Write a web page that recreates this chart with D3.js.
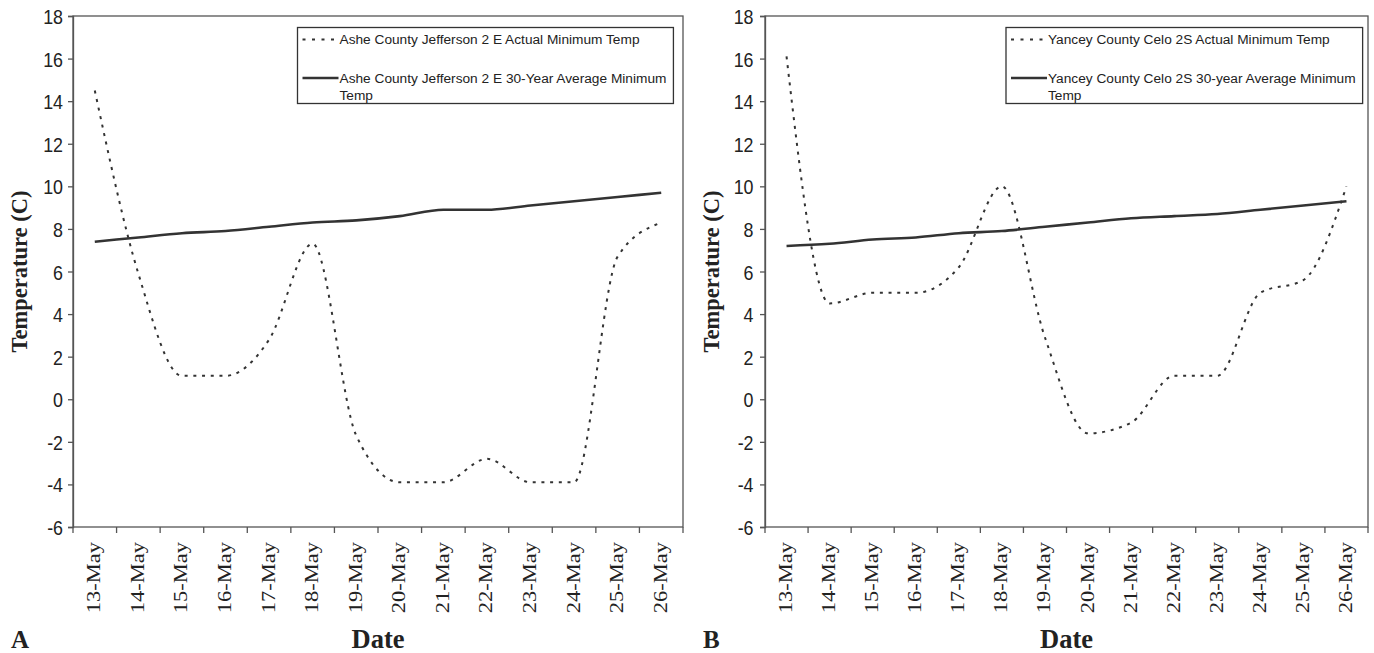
<!DOCTYPE html>
<html><head><meta charset="utf-8">
<script src="https://cdn.jsdelivr.net/npm/d3@7"></script>
<style>body{margin:0;background:#fff;} svg{display:block}</style>
</head><body><svg id="c" width="1374" height="653"></svg>
<script>
const categories = ["13-May","14-May","15-May","16-May","17-May","18-May","19-May","20-May","21-May","22-May","23-May","24-May","25-May","26-May"];
const yTicks = [-6,-4,-2,0,2,4,6,8,10,12,14,16,18];
const asheActual  = [14.5, 5.9, 1.1, 1.1, 2.8, 7.3, -1.7, -3.9, -3.9, -2.8, -3.9, -3.9, 6.7, 8.3];
const asheAverage = [7.4, 7.6, 7.8, 7.9, 8.1, 8.3, 8.4, 8.6, 8.9, 8.9, 9.1, 9.3, 9.5, 9.7];
const yanceyActual  = [16.1, 4.5, 5.0, 5.0, 6.2, 10.0, 2.9, -1.6, -1.1, 1.1, 1.1, 5.0, 5.6, 10.0];
const yanceyAverage = [7.2, 7.3, 7.5, 7.6, 7.8, 7.9, 8.1, 8.3, 8.5, 8.6, 8.7, 8.9, 9.1, 9.3];
const legendAshe = ["Ashe County Jefferson 2 E Actual Minimum Temp", ["Ashe County Jefferson 2 E 30-Year Average Minimum", "Temp"]];
const legendYancey = ["Yancey County Celo 2S Actual Minimum Temp", ["Yancey County Celo 2S 30-year Average Minimum", "Temp"]];
const yTitle = "Temperature (C)";
const xTitle = "Date";

const svg = d3.select("#c");
const INK = "#222";
const AX = "#555";
const SANS = "'Liberation Sans', Arial, sans-serif";
const SERIF = "'Liberation Serif', 'Times New Roman', serif";

function panel(cfg) {
  const g = svg.append("g");
  const top = 16, bottom = 527;
  const x = d3.scaleBand().domain(categories).range([cfg.left, cfg.right]);
  const y = d3.scaleLinear().domain([-6, 18]).range([bottom, top]);

  // frame
  g.append("rect").attr("x", cfg.left).attr("y", top)
    .attr("width", cfg.right - cfg.left).attr("height", bottom - top)
    .attr("fill", "none").attr("stroke", AX).attr("stroke-width", 1.3);

  // y axis
  const ya = g.append("g").attr("transform", `translate(${cfg.left},0)`)
    .call(d3.axisLeft(y).tickValues(yTicks).tickSize(5).tickPadding(0).tickFormat(d => String(d)));
  ya.select(".domain").attr("stroke", AX).attr("stroke-width", 1.3);
  ya.selectAll(".tick line").attr("stroke", AX).attr("stroke-width", 1.3);
  ya.selectAll(".tick text").attr("x", null).attr("dy", "0.36em")
    .attr("transform", `translate(${cfg.yLabGap},0) scale(0.85,1)`)
    .attr("font-family", SANS).attr("font-size", 21).attr("fill", INK);

  // x axis labels
  const xa = g.append("g").attr("transform", `translate(0,${bottom})`)
    .call(d3.axisBottom(x).tickSize(0).tickPadding(0));
  xa.select(".domain").remove();
  xa.selectAll(".tick text").attr("y", null).attr("dy", null)
    .attr("text-anchor", "end")
    .attr("transform", "translate(5.5,15) scale(0.85,1) rotate(-90)")
    .attr("font-family", SERIF).attr("font-size", 22.5).attr("fill", INK);
  const bounds = categories.map(c => x(c)).concat([cfg.right]);
  g.selectAll("line.xt").data(bounds).join("line").attr("class", "xt")
    .attr("x1", d => d).attr("x2", d => d).attr("y1", bottom).attr("y2", bottom + 6)
    .attr("stroke", AX).attr("stroke-width", 1.3);

  // lines
  const line = d3.line()
    .x((d, i) => x(categories[i]) + x.bandwidth() / 2)
    .y(d => y(d))
    .curve(d3.curveMonotoneX);
  g.append("path").attr("d", line(cfg.average)).attr("fill", "none")
    .attr("stroke", "#333").attr("stroke-width", 2.6);
  g.append("path").attr("d", line(cfg.actual)).attr("fill", "none")
    .attr("stroke", "#333").attr("stroke-width", 2).attr("stroke-dasharray", "3,5.7");

  // legend
  const lg = g.append("g").attr("transform", `translate(${cfg.legX},27.5)`);
  const box = lg.append("rect").attr("height", 76).attr("fill", "#fff")
    .attr("stroke", "#333").attr("stroke-width", 1.3);
  lg.append("line").attr("x1", 5).attr("x2", 41).attr("y1", 12).attr("y2", 12)
    .attr("stroke", "#333").attr("stroke-width", 2).attr("stroke-dasharray", "3,6.5");
  lg.append("line").attr("x1", 5).attr("x2", 41).attr("y1", 50.5).attr("y2", 50.5)
    .attr("stroke", "#333").attr("stroke-width", 2.6);
  const t1 = lg.append("text").attr("x", 42).attr("y", 12).attr("dy", "0.35em")
    .attr("font-family", SANS).attr("font-size", 13.7).attr("fill", INK).text(cfg.legend[0]);
  const t2 = lg.append("text").attr("font-family", SANS).attr("font-size", 13.7).attr("fill", INK);
  cfg.legend[1].forEach((s, i) => {
    t2.append("tspan").attr("x", 42).attr("y", 50.5 + i * 17).attr("dy", "0.35em").text(s);
  });
  const w = Math.max(t1.node().getComputedTextLength(), t2.node().getBBox().width);
  box.attr("width", 42 + w + 7);

  // titles
  svg.append("text").attr("transform", `translate(${cfg.left - 46},${(top + bottom) / 2}) rotate(-90)`)
    .attr("text-anchor", "middle").attr("font-family", SERIF).attr("font-weight", "bold")
    .attr("font-size", 22.5).attr("fill", INK).text(yTitle);
  svg.append("text").attr("x", (cfg.left + cfg.right) / 2).attr("y", 648)
    .attr("text-anchor", "middle").attr("font-family", SERIF).attr("font-weight", "bold")
    .attr("font-size", 26.5).attr("fill", INK).text(xTitle);
  svg.append("text").attr("x", cfg.tagX).attr("y", 648)
    .attr("font-family", SERIF).attr("font-weight", "bold")
    .attr("font-size", 25).attr("fill", INK).text(cfg.tag);
}

panel({ left: 73, right: 683, actual: asheActual, average: asheAverage, legend: legendAshe, legX: 297.5, yLabGap: -10, tag: "A", tagX: 11 });
panel({ left: 765, right: 1368, actual: yanceyActual, average: yanceyAverage, legend: legendYancey, legX: 1006, yLabGap: -11.5, tag: "B", tagX: 703 });
</script>
</body></html>
